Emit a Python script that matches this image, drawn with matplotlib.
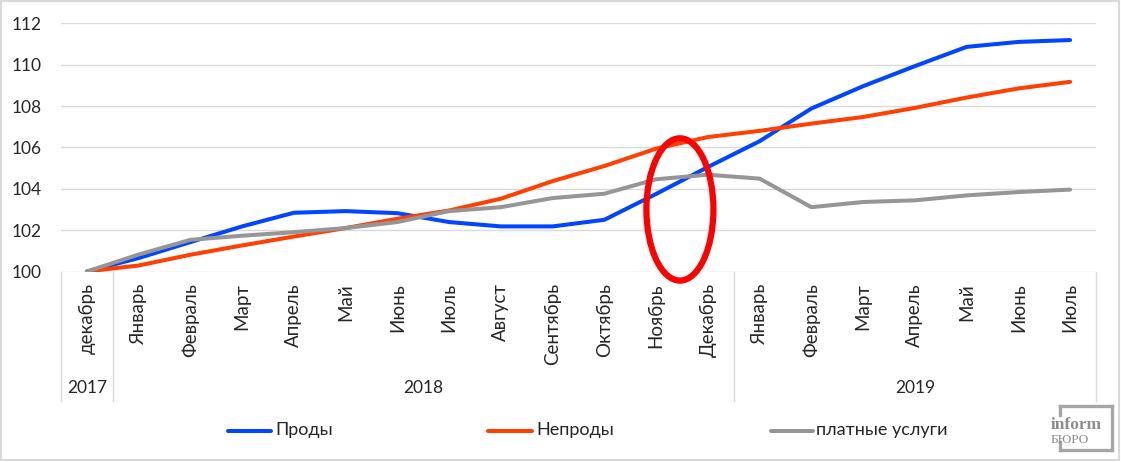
import matplotlib
matplotlib.use("Agg")
import matplotlib.pyplot as plt
from matplotlib.patches import Ellipse, Rectangle
from matplotlib.lines import Line2D
import matplotlib.transforms as mtransforms

plt.rcParams['font.family'] = ['Lato', 'DejaVu Sans']

categories = ['декабрь', 'Январь', 'Февраль', 'Март', 'Апрель', 'Май', 'Июнь',
              'Июль', 'Август', 'Сентябрь', 'Октябрь', 'Ноябрь', 'Декабрь',
              'Январь', 'Февраль', 'Март', 'Апрель', 'Май', 'Июнь', 'Июль']
years = ['2017', '2018', '2019']
year_spans = [(0, 0), (1, 12), (13, 19)]

prody = [100, 100.65, 101.42, 102.18, 102.84, 102.92, 102.82, 102.39, 102.18, 102.18,
         102.5, 103.75, 105.05, 106.3, 107.88, 108.96, 109.93, 110.86, 111.1, 111.19]
neprody = [100, 100.29, 100.81, 101.26, 101.69, 102.1, 102.55, 102.95, 103.52, 104.37,
           105.1, 105.94, 106.5, 106.8, 107.15, 107.47, 107.91, 108.41, 108.85, 109.17]
uslugi = [100, 100.82, 101.53, 101.73, 101.9, 102.1, 102.39, 102.92, 103.11, 103.55,
          103.76, 104.46, 104.68, 104.49, 103.11, 103.36, 103.44, 103.68, 103.84, 103.96]
series_names = ['Проды', 'Непроды', 'платные услуги']
series_colors = ['#0045FF', '#FF4000', '#969696']
yticks = [100, 102, 104, 106, 108, 110, 112]

W, H = 1121, 462
fig = plt.figure(figsize=(W / 100, H / 100), dpi=100)

def fx(x):
    return x / W

def fy(y):
    return 1 - y / H

# outer border
fig.patches.append(Rectangle((fx(1), fy(460)), fx(1118), 459 / H, transform=fig.transFigure,
                             fill=False, edgecolor='#d9d9d9', linewidth=1.5))

ax_l, ax_r, ax_t, ax_b = 61, 1096, 23.3, 271.5
ax = fig.add_axes([fx(ax_l), fy(ax_b), (ax_r - ax_l) / W, (ax_b - ax_t) / H])
ax.set_xlim(-0.5, len(categories) - 0.5)
ax.set_ylim(100, 112)
for s in ax.spines.values():
    s.set_visible(False)
ax.set_yticks(yticks)
ax.set_yticklabels([str(v) for v in yticks])
ax.tick_params(axis='y', length=0, pad=14, labelsize=12.5, labelcolor='#262626')
ax.set_xticks([])
for v in yticks:
    ax.axhline(v, color='#d9d9d9', linewidth=1.0, zorder=1)

x = list(range(len(categories)))
for vals, c in zip([prody, neprody, uslugi], series_colors):
    ax.plot(x, vals, color=c, linewidth=2.9, solid_capstyle='round', zorder=3)

# category labels and separators
trans = mtransforms.blended_transform_factory(ax.transData, ax.transAxes)
axh = ax_b - ax_t
def ay(ypix):
    return (ax_b - ypix) / axh

for i, lab in enumerate(categories):
    ax.text(i, ay(283), lab, transform=trans, rotation=90, ha='center', va='top',
            fontsize=13.5, color='#262626')

sep_positions = [-0.5, 0.5, 12.5, 19.5]
for sp in sep_positions:
    ax.plot([sp, sp], [0, ay(400.5)], transform=trans, color='#d9d9d9', linewidth=1.0,
            clip_on=False, zorder=1)

for yr, (a, b) in zip(years, year_spans):
    ax.text((a + b) / 2, ay(388), yr, transform=trans, ha='center', va='center',
            fontsize=12.5, color='#262626')

# highlight ellipse
ax.add_patch(Ellipse((11.46, 103.0), width=1.295, height=6.88, fill=False,
                     edgecolor='#FF0000', linewidth=4.5, clip_on=False, zorder=5))

# legend
leg = [(228, 271, 275), (488, 532, 536), (771, 813, 816)]
for (x0, x1, tx), name, c in zip(leg, series_names, series_colors):
    fig.lines.append(Line2D([fx(x0), fx(x1)], [fy(430.5), fy(430.5)], transform=fig.transFigure,
                            color=c, linewidth=2.9, solid_capstyle='round'))
    fig.text(fx(tx), fy(430.5), name, ha='left', va='center', fontsize=13, color='#262626')

# logo
lc = '#a6a6a6'
logo_lines = [
    ([1060, 1112], [406, 406]),
    ([1112, 1112], [406, 450]),
    ([1060, 1112], [450, 450]),
    ([1060, 1060], [406, 415]),
    ([1060, 1060], [442, 450]),
]
for xs, ys in logo_lines:
    fig.lines.append(Line2D([fx(v) for v in xs], [fy(v) for v in ys], transform=fig.transFigure,
                            color=lc, linewidth=2.4, solid_capstyle='projecting'))
fig.text(fx(1051), fy(429), 'inform', ha='left', va='baseline', fontsize=12.5,
         fontweight='bold', family=['Liberation Serif', 'DejaVu Serif'], color='#8c8c8c')
fig.text(fx(1051), fy(443), 'БЮРО', ha='left', va='baseline', fontsize=9.5,
         family=['Liberation Serif', 'DejaVu Serif'], color='#8c8c8c')

fig.savefig('out.png', dpi=100)
